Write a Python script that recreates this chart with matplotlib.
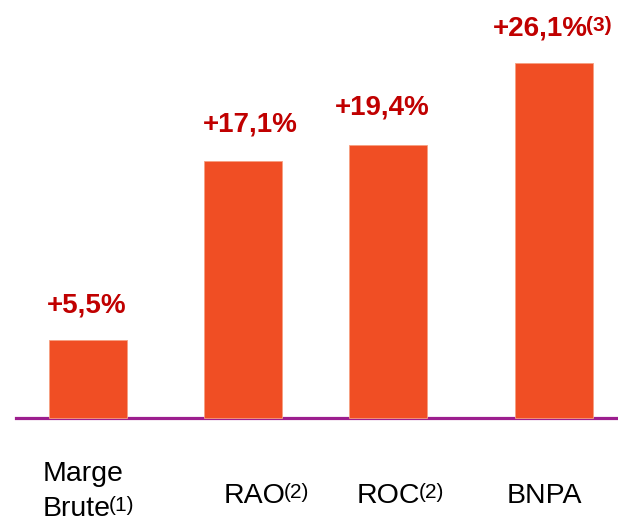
import matplotlib
matplotlib.use("Agg")
import matplotlib.pyplot as plt

# ---- data ----
categories = ["Marge\nBrute", "RAO", "ROC", "BNPA"]
footnotes = ["(1)", "(2)", "(2)", ""]
bar_heights = [5.5, 18.2, 19.3, 25.1]
growth_labels = ["+5,5%", "+17,1%", "+19,4%", "+26,1%"]
growth_notes = ["", "", "", "(3)"]

plt.rcParams['font.family'] = ['Liberation Sans', 'DejaVu Sans']

W, H = 618, 521
fig = plt.figure(figsize=(W / 100, H / 100), dpi=100)
ax = fig.add_axes([0, 0, 1, 1])

# layout
xpos = [0, 1.0, 1.93, 3.0]
unit = 155.33
x0px = 88
ax.set_xlim(-x0px / unit, (W - x0px) / unit)
yscale = 14.14
base_from_bottom = H - 418
ax.set_ylim(-base_from_bottom / yscale, (H - base_from_bottom) / yscale)
ax.axis('off')

ax.bar(xpos, bar_heights, width=78 / unit, color='#F04E24',
       edgecolor='#F6A081', linewidth=0.6, zorder=2)
ax.axhline(0, xmin=16 / W, xmax=1, color='#9C1E8E', lw=2.3, zorder=1)

renderer = fig.canvas.get_renderer()


def place(xpx, ybase_px_bottom, main, sup, size, weight, color, sup_size, raise_px):
    t = fig.text(xpx / W, ybase_px_bottom / H, main, ha='left', va='baseline',
                 fontsize=size, fontweight=weight, color=color)
    if sup:
        bb = t.get_window_extent(renderer=renderer)
        fig.text((bb.x1 - 2) / W, (ybase_px_bottom + raise_px) / H, sup,
                 ha='left', va='baseline', fontsize=sup_size,
                 fontweight=weight, color=color)


# value labels anchored to bar tops
offsets_px = [(-41, 28), (-40, 29), (-53, 31), (-61, 28)]
for i in range(len(bar_heights)):
    px, py = ax.transData.transform((xpos[i], bar_heights[i]))
    dx, dy = offsets_px[i]
    place(px + dx, py + dy, growth_labels[i], growth_notes[i], 20, 'bold',
          '#C00000', 15, 4)

# category labels
cat_pos = [(43, 481), (224, 503), (357, 503), (507, 503)]
line_step = 35
for i, cat in enumerate(categories):
    lines = cat.split("\n")
    x, y = cat_pos[i]
    for j, line in enumerate(lines):
        sup = footnotes[i] if j == len(lines) - 1 else ""
        place(x, H - (y + j * line_step), line, sup, 20.5, 'normal', 'black',
              15, 5)

fig.savefig("out.png", dpi=100)
